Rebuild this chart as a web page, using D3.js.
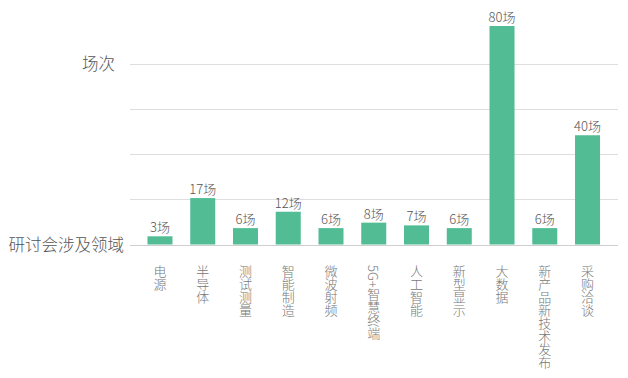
<!DOCTYPE html>
<html>
<head>
<meta charset="utf-8">
<script src="https://cdn.jsdelivr.net/npm/d3@7"></script>
<style>
  body { margin: 0; background: #fff; }
  svg text { font-family: "Noto Sans CJK SC", "Noto Sans", sans-serif; }
</style>
</head>
<body>
<div id="chart"></div>
<script>
const categories = ['电源', '半导体', '测试测量', '智能制造', '微波射频', '5G+智慧终端',
                    '人工智能', '新型显示', '大数据', '新产品新技术发布', '采购洽谈'];
const values = [3, 17, 6, 12, 6, 8, 7, 6, 80, 6, 40];
const gridValues = [0, 16.5, 33, 49.5, 66];
const unit = '场';
const yTitle = '场次';
const xTitle = '研讨会涉及领域';

const width = 628, height = 378;
const svg = d3.select('#chart').append('svg')
  .attr('width', width)
  .attr('height', height);

const xScale = d3.scaleBand()
  .domain(categories)
  .range([138.6, 608.9])
  .paddingInner(0.415)
  .paddingOuter(0.2075);

const yScale = d3.scaleLinear()
  .domain([0, 80])
  .range([244.5, 26]);

// grid lines
svg.append('g')
  .selectAll('line')
  .data(gridValues)
  .join('line')
  .attr('x1', 130)
  .attr('x2', 618)
  .attr('y1', d => Math.round(yScale(d)) + 0.5)
  .attr('y2', d => Math.round(yScale(d)) + 0.5)
  .style('stroke', d => d === 0 ? '#cfcfcf' : '#dedede')
  .style('stroke-width', 1);

// bars
svg.append('g')
  .selectAll('rect')
  .data(values)
  .join('rect')
  .attr('x', (d, i) => xScale(categories[i]))
  .attr('width', xScale.bandwidth())
  .attr('y', d => yScale(d))
  .attr('height', d => yScale(0) - yScale(d))
  .style('fill', '#52bd94');

// value labels
svg.append('g')
  .selectAll('text')
  .data(values)
  .join('text')
  .attr('x', (d, i) => xScale(categories[i]) + xScale.bandwidth() / 2)
  .attr('y', d => yScale(d) - 4)
  .attr('text-anchor', 'middle')
  .style('font-size', '13px')
  .style('font-weight', 300)
  .style('fill', '#555')
  .text(d => d + unit);

// category labels, vertical
svg.append('g')
  .selectAll('text')
  .data(categories)
  .join('text')
  .attr('x', d => xScale(d) + xScale.bandwidth() / 2)
  .attr('y', 265)
  .style('writing-mode', 'vertical-rl')
  .style('font-size', '13px')
  .style('font-weight', 300)
  .style('fill', '#777')
  .text(d => d);

// axis titles
svg.append('text')
  .attr('x', 115)
  .attr('y', yScale(gridValues[4]) + 6)
  .attr('text-anchor', 'end')
  .style('font-size', '16.5px')
  .style('font-weight', 300)
  .style('fill', '#555')
  .text(yTitle);

svg.append('text')
  .attr('x', 124)
  .attr('y', yScale(0) + 6)
  .attr('text-anchor', 'end')
  .style('font-size', '16.5px')
  .style('font-weight', 300)
  .style('fill', '#555')
  .text(xTitle);
</script>
</body>
</html>
